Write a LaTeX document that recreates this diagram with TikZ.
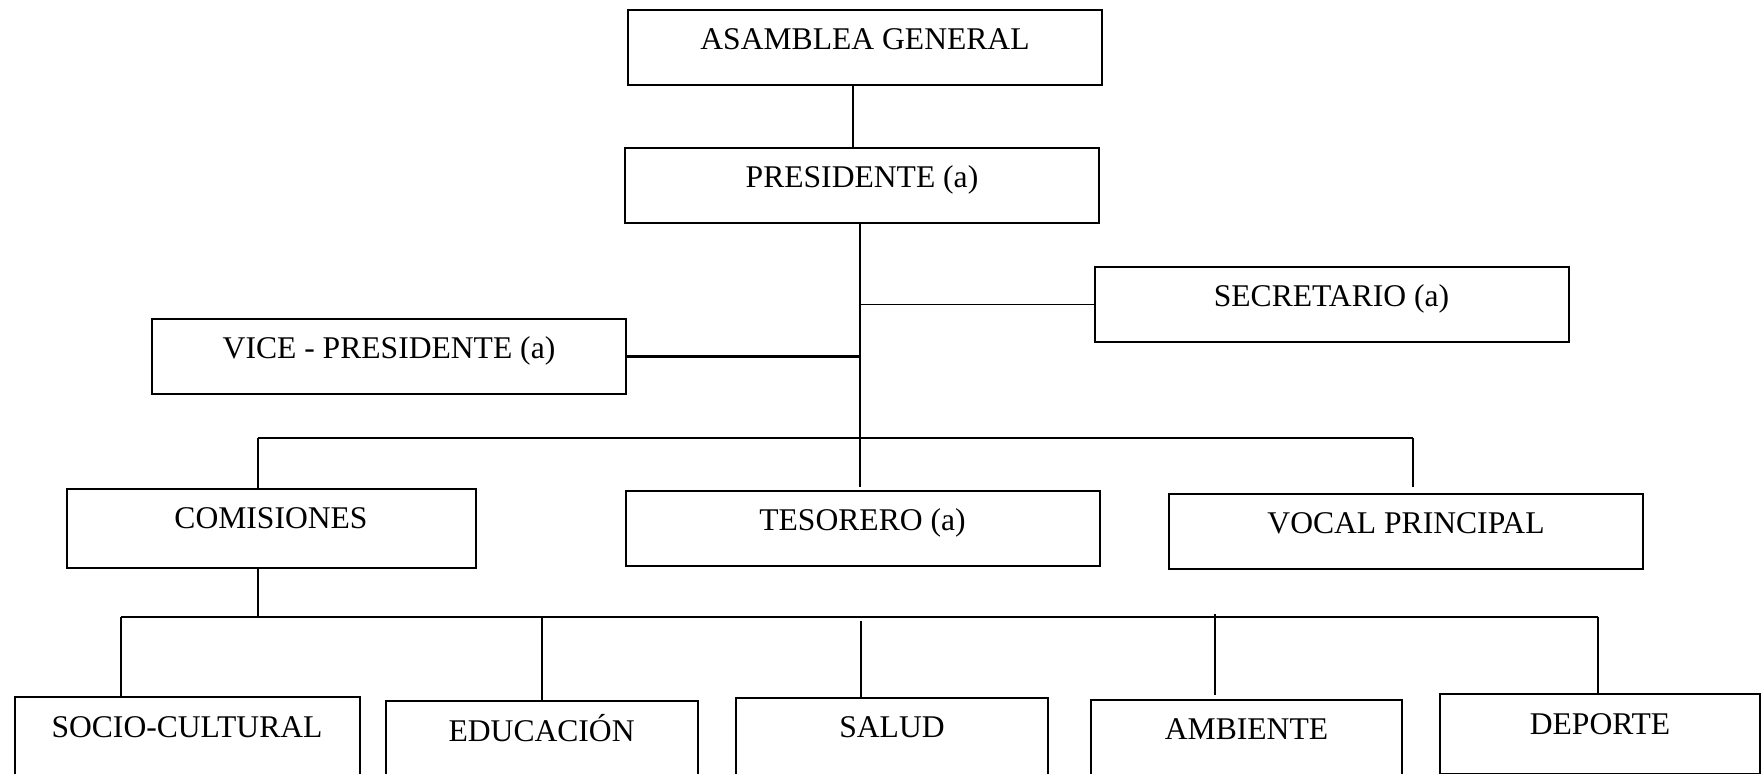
\documentclass[tikz,border=0pt]{standalone}
\usepackage{fontspec}
\setmainfont{Liberation Serif}
\begin{document}
\begin{tikzpicture}[x=0.5pt,y=-0.5pt]
        \tikzstyle{cargo}=[rectangle,draw=black,line width=1pt,inner sep=0pt,minimum width=237pt,text height=20pt,text depth=17.5pt,anchor=north,font=\fontsize{15.8}{19}\selectfont]
        \tikzstyle{linea}=[draw,line width=0.8pt]
        \tikzstyle{barra}=[draw,line width=1.1pt]
       \clip (0,0) rectangle (1762,774);
       \begin{scope}
         \node [cargo] (asamblea) at (865,9) {ASAMBLEA GENERAL};
         \node [cargo] (presidente) at (862,147) {PRESIDENTE (a)};
         \node [cargo] (secretario) at (1331.5,266) {SECRETARIO (a)};
         \node [cargo] (vice) at (389,318) {VICE - PRESIDENTE (a)};
         \node [cargo,minimum width=204.5pt,text depth=19.5pt] (comisiones) at (271,488) {COMISIONES};
         \node [cargo] (tesorero) at (862.5,490) {TESORERO (a)};
         \node [cargo] (vocal) at (1406,493) {VOCAL PRINCIPAL};

         \node [cargo,minimum width=172.5pt,text depth=22.5pt] (socio) at (187,696) {SOCIO-CULTURAL};
         \node [cargo,minimum width=156pt,text depth=22.5pt] (educacion) at (541.6,700) {EDUCACIÓN};
         \node [cargo,minimum width=156pt,text depth=22.5pt] (salud) at (892,697) {SALUD};
         \node [cargo,minimum width=155.5pt,text depth=22.5pt] (ambiente) at (1246.5,699) {AMBIENTE};
         \node [cargo,minimum width=160pt,text depth=20pt] (deporte) at (1600,693) {DEPORTE};

         \coordinate (hub) at (860,438);
         \coordinate (busL) at (258,438);
         \coordinate (busR) at (1413,438);
         \coordinate (sub) at (258,617);
         \coordinate (subL) at (121,617);
         \coordinate (subR) at (1598,617);
         \coordinate (d2) at (542,617);
         \coordinate (d3) at (861,621);
         \coordinate (d4) at (1215,614);

         \path[linea] ([xshift=-6pt]asamblea.south) -- ([xshift=-6pt]asamblea.south |- presidente.north);
         \path[linea] (presidente.south -| hub) -- (hub);
         \path[linea] (secretario.west) -- (secretario.west -| hub);
         \path[barra] (vice.east) -- (vice.east -| hub);
         \path[barra] (busL) -- (busR);
         \path[linea] (busL) -- (busL |- comisiones.north);
         \path[linea,shorten >=1.5pt] (hub) -- (hub |- tesorero.north);
         \path[linea,shorten >=3pt] (busR) -- (busR |- vocal.north);

         \path[linea] (comisiones.south -| sub) -- (sub);
         \path[barra] (subL) -- (subR);
         \path[linea] (subL) -- (subL |- socio.north);
         \path[linea] (d2) -- (d2 |- educacion.north);
         \path[linea] (d3) -- (d3 |- salud.north);
         \path[linea,shorten >=2pt] (d4) -- (d4 |- ambiente.north);
         \path[linea] (subR) -- (subR |- deporte.north);
        \end{scope}
\end{tikzpicture}
\end{document}
